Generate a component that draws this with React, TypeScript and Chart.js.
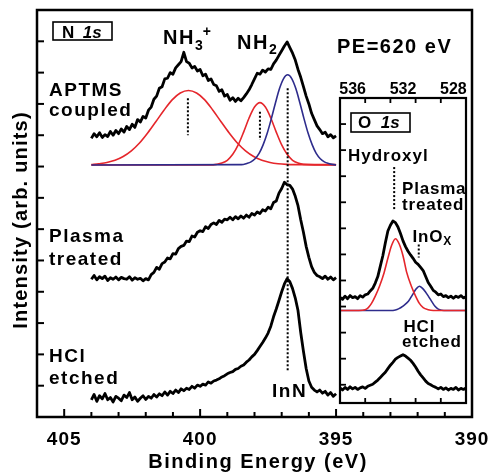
import React, { useEffect, useRef } from 'react';
import { Chart, registerables } from 'chart.js';

Chart.register(...registerables);

const FONT = '"Liberation Sans", Arial, Helvetica, sans-serif';
const BLACK = '#000000';
const RED = '#e5262b';
const BLUE = '#2e2c8c';

// ---------- N 1s panel (binding energy, eV) ----------
const nEnergy = [
  404, 403.9, 403.8, 403.7, 403.6, 403.5, 403.4, 403.3, 403.2, 403.1,
  403, 402.9, 402.8, 402.7, 402.6, 402.5, 402.4, 402.3, 402.2, 402.1,
  402, 401.9, 401.8, 401.7, 401.6, 401.5, 401.4, 401.3, 401.2, 401.1,
  401, 400.9, 400.8, 400.7, 400.6, 400.5, 400.4, 400.3, 400.2, 400.1,
  400, 399.9, 399.8, 399.7, 399.6, 399.5, 399.4, 399.3, 399.2, 399.1,
  399, 398.9, 398.8, 398.7, 398.6, 398.5, 398.4, 398.3, 398.2, 398.1,
  398, 397.9, 397.8, 397.7, 397.6, 397.5, 397.4, 397.3, 397.2, 397.1,
  397, 396.9, 396.8, 396.7, 396.6, 396.5, 396.4, 396.3, 396.2, 396.1,
  396, 395.9, 395.8, 395.7, 395.6, 395.5, 395.4, 395.3, 395.2, 395.1,
  395,
];

const aptmsCoupled = [
  8.90, 9.05, 8.95, 9.08, 8.93, 9.02, 8.96, 9.12, 9.00, 9.15,
  9.05, 9.20, 9.10, 9.28, 9.18, 9.35, 9.25, 9.50, 9.42, 9.60,
  9.55, 9.80, 9.90, 10.15, 10.25, 10.50, 10.55, 10.80, 10.82, 11.00,
  10.95, 11.15, 11.25, 11.35, 11.65, 11.35, 11.30, 11.15, 11.20, 11.05,
  11.10, 10.90, 10.95, 10.75, 10.80, 10.62, 10.58, 10.40, 10.45, 10.25,
  10.30, 10.12, 10.20, 10.08, 10.18, 10.10, 10.20, 10.32, 10.45, 10.62,
  10.80, 10.98, 10.95, 11.08, 11.02, 11.12, 11.10, 11.28, 11.40, 11.55,
  11.70, 11.85, 11.98, 11.80, 11.62, 11.40, 11.10, 10.85, 10.55, 10.25,
  10.00, 9.70, 9.50, 9.30, 9.18, 9.05, 9.10, 8.95, 9.02, 8.92,
  8.98,
];

const plasmaTreatedN = [
  4.40, 4.52, 4.38, 4.48, 4.42, 4.50, 4.36, 4.45, 4.40, 4.47,
  4.38, 4.46, 4.42, 4.40, 4.48, 4.37, 4.45, 4.40, 4.43, 4.35,
  4.42, 4.38, 4.55, 4.62, 4.78, 4.72, 4.90, 4.95, 5.08, 5.05,
  5.22, 5.20, 5.38, 5.45, 5.48, 5.62, 5.60, 5.78, 5.75, 5.90,
  5.95, 5.92, 6.08, 6.02, 6.15, 6.20, 6.15, 6.28, 6.22, 6.32,
  6.30, 6.38, 6.30, 6.40, 6.33, 6.42, 6.35, 6.45, 6.38, 6.50,
  6.45, 6.55, 6.50, 6.62, 6.58, 6.70, 6.65, 6.85, 6.90, 7.15,
  7.30, 7.50, 7.42, 7.40, 7.28, 7.05, 6.75, 6.30, 5.90, 5.45,
  5.10, 4.80, 4.62, 4.52, 4.48, 4.42, 4.50, 4.40, 4.47, 4.38,
  4.45,
];

const hclEtchedN = [
  0.55, 0.72, 0.50, 0.68, 0.58, 0.75, 0.55, 0.62, 0.48, 0.66,
  0.60, 0.52, 0.70, 0.62, 0.78, 0.55, 0.64, 0.50, 0.60, 0.68,
  0.56, 0.66, 0.60, 0.72, 0.64, 0.74, 0.68, 0.80, 0.70, 0.82,
  0.75, 0.86, 0.78, 0.90, 0.84, 0.92, 0.88, 0.98, 0.92, 1.02,
  0.98, 1.05, 1.02, 1.12, 1.08, 1.15, 1.18, 1.22, 1.28, 1.32,
  1.38, 1.42, 1.45, 1.52, 1.55, 1.62, 1.66, 1.75, 1.82, 1.92,
  2.00, 2.12, 2.25, 2.38, 2.52, 2.68, 2.90, 3.20, 3.45, 3.72,
  4.00, 4.25, 4.42, 4.32, 4.10, 3.80, 3.40, 2.70, 2.10, 1.55,
  1.15, 0.95, 0.86, 0.80, 0.86, 0.76, 0.82, 0.70, 0.78, 0.66,
  0.74,
];

// fitted components (N 1s)
const fitNH3E = [404, 403.73, 403.43, 403.13, 402.83, 402.53, 402.23, 401.93, 401.63, 401.33, 401.03, 400.73, 400.43, 400.13, 399.83, 399.53, 399.23, 398.93, 398.63, 398.33, 398.03, 397.73, 397.43, 397.13, 396.83, 396.2, 395];
const fitNH3V = [8.06, 8.09, 8.13, 8.2, 8.32, 8.5, 8.75, 9.07, 9.43, 9.8, 10.13, 10.35, 10.43, 10.35, 10.13, 9.8, 9.43, 9.07, 8.75, 8.5, 8.32, 8.2, 8.13, 8.09, 8.07, 8.06, 8.06];

const fitNH2E = [404, 399.6, 399.4, 399.2, 399.0, 398.8, 398.6, 398.4, 398.2, 398.0, 397.8, 397.6, 397.4, 397.2, 397.0, 396.8, 396.6, 396.4, 396.2, 395];
const fitNH2V = [8.05, 8.05, 8.07, 8.11, 8.2, 8.39, 8.69, 9.1, 9.55, 9.9, 10.04, 9.9, 9.55, 9.1, 8.69, 8.39, 8.2, 8.11, 8.07, 8.05];

const fitInNE = [404, 398.48, 398.28, 398.13, 397.98, 397.83, 397.68, 397.53, 397.38, 397.23, 397.08, 396.93, 396.78, 396.63, 396.48, 396.33, 396.18, 396.03, 395.88, 395.73, 395.58, 395.43, 395.28, 395.08, 395];
const fitInNV = [8.05, 8.06, 8.1, 8.15, 8.25, 8.42, 8.7, 9.07, 9.53, 10.03, 10.49, 10.81, 10.93, 10.81, 10.49, 10.03, 9.53, 9.07, 8.7, 8.42, 8.25, 8.15, 8.1, 8.06, 8.05];

// dotted peak markers (N 1s): energy, top, bottom
const nMarkE = [400.45, 397.8, 396.78];
const nMarkTop = [10.18, 9.75, 10.5];
const nMarkBottom = [9.0, 8.85, 1.45];

const nTickLabels = [405, 400, 395, 390];

// ---------- O 1s inset ----------
const oEnergy = [
  537, 536.8, 536.6, 536.4, 536.2, 536, 535.8, 535.6, 535.4, 535.2,
  535, 534.8, 534.6, 534.4, 534.2, 534, 533.8, 533.6, 533.4, 533.2,
  533, 532.8, 532.6, 532.4, 532.2, 532, 531.8, 531.6, 531.4, 531.2,
  531, 530.8, 530.6, 530.4, 530.2, 530, 529.8, 529.6, 529.4, 529.2,
  529, 528.8, 528.6, 528.4, 528.2, 528, 527.8, 527.6, 527.4, 527.2,
  527,
];

const plasmaTreatedO = [
  3.35, 3.28, 3.40, 3.30, 3.42, 3.34, 3.38, 3.30, 3.42, 3.36,
  3.45, 3.48, 3.60, 3.70, 3.90, 4.15, 4.55, 4.95, 5.45, 5.90,
  6.12, 6.28, 6.22, 6.05, 5.80, 5.52, 5.30, 5.12, 4.98, 4.85,
  4.70, 4.62, 4.50, 4.38, 4.15, 3.92, 3.78, 3.62, 3.55, 3.45,
  3.48, 3.38, 3.42, 3.34, 3.40, 3.32, 3.40, 3.35, 3.42, 3.33,
  3.38,
];

const hclEtchedO = [
  -0.12, -0.20, -0.10, -0.18, -0.08, -0.16, -0.10, -0.18, -0.12, -0.08,
  -0.14, -0.06, -0.02, 0.02, 0.10, 0.18, 0.28, 0.38, 0.48, 0.62,
  0.75, 0.86, 0.98, 1.05, 1.10, 1.15, 1.10, 1.02, 0.94, 0.82,
  0.68, 0.52, 0.38, 0.26, 0.14, 0.05, 0.00, -0.06, -0.10, -0.16,
  -0.10, -0.18, -0.12, -0.20, -0.14, -0.18, -0.10, -0.20, -0.14, -0.18,
  -0.12,
];

const fitHydroxylE = [537, 535.5, 535, 534.75, 534.5, 534.2, 533.85, 533.5, 533.2, 532.9, 532.6, 532.3, 532, 531.7, 531.35, 531, 530.7, 530.4, 530, 529.6, 527];
const fitHydroxylV = [2.85, 2.85, 2.88, 2.96, 3.12, 3.4, 3.8, 4.3, 4.85, 5.35, 5.6, 5.4, 4.95, 4.3, 3.8, 3.4, 3.12, 2.96, 2.88, 2.85, 2.85];

const fitInOxE = [537, 534.2, 533, 532.6, 532.36, 532, 531.57, 531.25, 530.95, 530.7, 530.45, 530.2, 529.99, 529.7, 529.46, 529.2, 528.93, 528.5, 527];
const fitInOxV = [2.85, 2.85, 2.85, 2.87, 2.91, 3.02, 3.2, 3.45, 3.68, 3.78, 3.7, 3.55, 3.4, 3.18, 3.01, 2.9, 2.86, 2.85, 2.85];

const oMarkE = [532.7, 530.75];
const oMarkTop = [8.35, 5.38];
const oMarkBottom = [6.67, 4.88];

const oTickLabels = [536, 532, 528];

// ---------- helpers ----------
type P = { x: number; y: number };
const pts = (xs: number[], ys: number[]): P[] => xs.map((x, i) => ({ x, y: ys[i] }));

const line = (data: P[], color: string, width: number, extra: any = {}) => ({
  data,
  borderColor: color,
  backgroundColor: color,
  borderWidth: width,
  pointRadius: 0,
  showLine: true,
  fill: false,
  borderJoinStyle: 'round',
  ...extra,
});

const spectrum = (xs: number[], ys: number[]) => line(pts(xs, ys), BLACK, 2.8);
const fit = (xs: number[], ys: number[], color: string) =>
  line(pts(xs, ys), color, 1.6, { cubicInterpolationMode: 'monotone' });
const marker = (e: number, top: number, bottom: number) =>
  line([{ x: e, y: top }, { x: e, y: bottom }], BLACK, 2, { borderDash: [2, 2], borderJoinStyle: 'miter' });

type Run = { t: string; font: string; ls?: number; dy?: number; dx?: number };

function setLS(ctx: any, v: number) {
  if ('letterSpacing' in ctx) ctx.letterSpacing = `${v}px`;
}

function runText(ctx: CanvasRenderingContext2D, x: number, baseline: number, runs: Run[]) {
  let cx = x;
  ctx.textAlign = 'left';
  ctx.textBaseline = 'alphabetic';
  for (const r of runs) {
    ctx.font = r.font;
    setLS(ctx, r.ls ?? 0);
    cx += r.dx ?? 0;
    ctx.fillText(r.t, cx, baseline + (r.dy ?? 0));
    cx += ctx.measureText(r.t).width;
  }
  setLS(ctx, 0);
}

const B = (px: number) => `bold ${px}px ${FONT}`;
const BI = (px: number) => `italic bold ${px}px ${FONT}`;

const mainPlugin = {
  id: 'mainDecor',
  afterDraw(chart: any) {
    const { ctx, chartArea: a, scales } = chart;
    const xs = scales.x;
    const ys = scales.y;
    ctx.save();
    ctx.fillStyle = BLACK;
    ctx.strokeStyle = BLACK;
    ctx.lineWidth = 2;
    xs.ticks.forEach((t: any) => {
      const px = xs.getPixelForValue(t.value);
      if (px < a.left + 3 || px > a.right - 3) return;
      const major = nTickLabels.includes(t.value);
      ctx.beginPath();
      ctx.moveTo(px, a.bottom);
      ctx.lineTo(px, a.bottom - (major ? 8 : 5));
      ctx.stroke();
    });
    ys.ticks.forEach((t: any) => {
      const py = ys.getPixelForValue(t.value);
      if (py < a.top + 3 || py > a.bottom - 3) return;
      ctx.beginPath();
      ctx.moveTo(a.left, py);
      ctx.lineTo(a.left + 7, py);
      ctx.stroke();
    });
    ctx.lineWidth = 2.5;
    ctx.strokeRect(a.left, a.top, a.right - a.left, a.bottom - a.top);
    ctx.font = B(19);
    ctx.textAlign = 'center';
    ctx.textBaseline = 'alphabetic';
    setLS(ctx, 1);
    nTickLabels.forEach((v) => {
      ctx.fillText(String(v), xs.getPixelForValue(v), a.bottom + 28);
    });
    ctx.font = B(20);
    setLS(ctx, 1.5);
    ctx.fillText('Binding Energy (eV)', 258, 468);
    ctx.save();
    ctx.translate(26.5, 220);
    ctx.rotate(-Math.PI / 2);
    setLS(ctx, 1.2);
    ctx.fillText('Intensity (arb. units)', 0, 0);
    ctx.restore();
    setLS(ctx, 0);

    ctx.lineWidth = 1.6;
    ctx.strokeRect(53, 22, 59, 18);
    runText(ctx, 62, 37.5, [
      { t: 'N', font: B(17) },
      { t: '1s', font: BI(17), dx: 8.5 },
    ]);
    runText(ctx, 163, 44, [
      { t: 'NH', font: B(20), ls: 1.5 },
      { t: '3', font: B(14), dy: 5.5 },
      { t: '+', font: B(14), dy: -8.5 },
    ]);
    runText(ctx, 237, 49, [
      { t: 'NH', font: B(20), ls: 1.5 },
      { t: '2', font: B(14), dy: 4.5 },
    ]);
    runText(ctx, 337, 53, [{ t: 'PE=620 eV', font: B(20), ls: 1.5 }]);
    const lab = (t: string, x: number, y: number) => runText(ctx, x, y, [{ t, font: B(19), ls: 1.5 }]);
    lab('APTMS', 49, 95.5);
    lab('coupled', 49, 115.5);
    lab('Plasma', 49, 242);
    lab('treated', 49, 264.5);
    lab('HCl', 49, 362);
    lab('etched', 49, 383.5);
    lab('InN', 272, 396.5);
    ctx.restore();
  },
};

const insetPlugin = {
  id: 'insetDecor',
  beforeDraw(chart: any) {
    const { ctx, chartArea: a } = chart;
    ctx.save();
    ctx.fillStyle = '#ffffff';
    ctx.fillRect(a.left, a.top, a.right - a.left, a.bottom - a.top);
    ctx.restore();
  },
  afterDraw(chart: any) {
    const { ctx, chartArea: a, scales } = chart;
    const xs = scales.x;
    const ys = scales.y;
    ctx.save();
    ctx.fillStyle = BLACK;
    ctx.strokeStyle = BLACK;
    ctx.lineWidth = 1.8;
    xs.ticks.forEach((t: any) => {
      const px = xs.getPixelForValue(t.value);
      if (px < a.left + 3 || px > a.right - 3) return;
      const major = oTickLabels.includes(t.value);
      const len = major ? 7 : 5;
      ctx.beginPath();
      ctx.moveTo(px, a.top);
      ctx.lineTo(px, a.top + len);
      ctx.moveTo(px, a.bottom);
      ctx.lineTo(px, a.bottom - len);
      ctx.stroke();
    });
    ys.ticks.forEach((t: any) => {
      const py = ys.getPixelForValue(t.value);
      if (py < a.top + 3 || py > a.bottom - 3) return;
      ctx.beginPath();
      ctx.moveTo(a.left, py);
      ctx.lineTo(a.left + 6, py);
      ctx.stroke();
    });
    ctx.lineWidth = 2.2;
    ctx.strokeRect(a.left, a.top, a.right - a.left, a.bottom - a.top);
    ctx.font = B(16);
    ctx.textAlign = 'center';
    ctx.textBaseline = 'alphabetic';
    oTickLabels.forEach((v) => {
      ctx.fillText(String(v), xs.getPixelForValue(v), a.top - 4);
    });
    ctx.lineWidth = 1.6;
    ctx.strokeRect(21, 39, 59, 19);
    runText(ctx, 28, 54, [
      { t: 'O', font: B(17) },
      { t: '1s', font: BI(17), dx: 9.5 },
    ]);
    const lab = (t: string, x: number, y: number, ls = 0.8) => runText(ctx, x, y, [{ t, font: B(17), ls }]);
    lab('Hydroxyl', 18, 87, 1);
    lab('Plasma', 72, 119.5);
    lab('treated', 72, 136);
    runText(ctx, 82.5, 167.5, [
      { t: 'InO', font: B(17), ls: 0.8 },
      { t: 'X', font: B(12), dy: 3.5 },
    ]);
    lab('HCl', 73.5, 257.5);
    lab('etched', 72, 272.5);
    ctx.restore();
  },
};

const baseOptions = (xMin: number, xMax: number, yMin: number, yMax: number, padding: any) => ({
  responsive: false,
  animation: false as const,
  events: [] as any[],
  layout: { padding },
  plugins: { legend: { display: false }, tooltip: { enabled: false }, title: { display: false } },
  elements: { point: { radius: 0 }, line: { tension: 0 } },
  scales: {
    x: { type: 'linear' as const, display: false, min: xMin, max: xMax, reverse: true, ticks: { stepSize: 1 } },
    y: { type: 'linear' as const, display: false, min: yMin, max: yMax, ticks: { stepSize: 1 } },
  },
});

export default function App() {
  const mainRef = useRef<HTMLCanvasElement>(null);
  const insetRef = useRef<HTMLCanvasElement>(null);

  useEffect(() => {
    if (!mainRef.current || !insetRef.current) return;
    const main = new Chart(mainRef.current, {
      type: 'scatter',
      data: {
        datasets: [
          spectrum(nEnergy, aptmsCoupled),
          spectrum(nEnergy, plasmaTreatedN),
          spectrum(nEnergy, hclEtchedN),
          ...nMarkE.map((e, i) => marker(e, nMarkTop[i], nMarkBottom[i])),
          fit(fitInNE, fitInNV, BLUE),
          fit(fitNH2E, fitNH2V, RED),
          fit(fitNH3E, fitNH3V, RED),
        ] as any,
      },
      options: baseOptions(390, 406, 0, 13, { left: 37, top: 10, right: 16, bottom: 57 }) as any,
      plugins: [mainPlugin],
    });
    const inset = new Chart(insetRef.current, {
      type: 'scatter',
      data: {
        datasets: [
          spectrum(oEnergy, plasmaTreatedO),
          spectrum(oEnergy, hclEtchedO),
          ...oMarkE.map((e, i) => marker(e, oMarkTop[i], oMarkBottom[i])),
          fit(fitHydroxylE, fitHydroxylV, RED),
          fit(fitInOxE, fitInOxV, BLUE),
        ] as any,
      },
      options: baseOptions(527, 537, -0.7, 11, { left: 10, top: 24, right: 14, bottom: 6 }) as any,
      plugins: [insetPlugin],
    });
    return () => {
      main.destroy();
      inset.destroy();
    };
  }, []);

  return (
    <div style={{ position: 'fixed', left: 0, top: 0, width: 488, height: 474, background: '#ffffff' }}>
      <canvas ref={mainRef} width={488} height={474} style={{ position: 'absolute', left: 0, top: 0, width: 488, height: 474 }} />
      <canvas ref={insetRef} width={150} height={335} style={{ position: 'absolute', left: 330, top: 74, width: 150, height: 335 }} />
    </div>
  );
}
